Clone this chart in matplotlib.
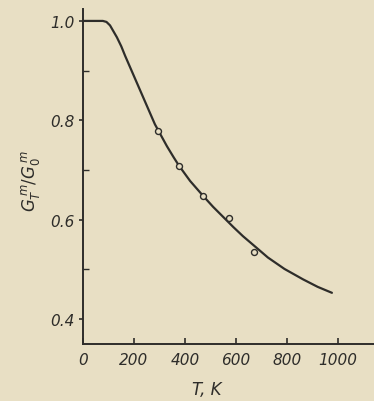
import matplotlib
matplotlib.use("Agg")
import matplotlib.pyplot as plt
from matplotlib.ticker import MultipleLocator

# Curve
curve_T = [0, 40, 78, 92, 106, 133, 150, 165, 204, 243, 282, 329, 355, 376,
           420, 471, 510, 549, 590, 627, 675, 725, 790, 863, 920, 976]
curve_G = [1.0, 1.0, 1.0, 0.998, 0.991, 0.967, 0.949, 0.930, 0.884, 0.838,
           0.792, 0.748, 0.726, 0.709, 0.678, 0.648, 0.626, 0.606, 0.585,
           0.567, 0.546, 0.524, 0.501, 0.480, 0.465, 0.453]

# Measured points (open circles)
pts_T = [294, 376, 472, 572, 671]
pts_G = [0.778, 0.708, 0.648, 0.603, 0.535]

x_ticks = [0, 200, 400, 600, 800, 1000]
x_ticklabels = ["0", "200", "400", "600", "800", "1000"]
y_ticks = [0.4, 0.6, 0.8, 1.0]
y_ticklabels = ["0.4", "0.6", "0.8", "1.0"]

bg = "#e8dfc4"
ink = "#2e2d2a"

fig = plt.figure(figsize=(3.74, 4.02), dpi=100, facecolor=bg)
ax = fig.add_axes([83/374, (402-345)/402, 1 - 83/374, (345-10)/402])
ax.set_facecolor(bg)

ax.plot(curve_T, curve_G, color=ink, lw=1.6, solid_capstyle="round",
        solid_joinstyle="round", zorder=2)
ax.plot(pts_T, pts_G, linestyle="none", marker="o", ms=4.3, mfc=bg,
        mec=ink, mew=1.0, zorder=3)

ax.set_xlim(0, 1141)
ax.set_ylim(0.35, 1.024)

for s in ["top", "right"]:
    ax.spines[s].set_visible(False)
for s in ["left", "bottom"]:
    ax.spines[s].set_color(ink)
    ax.spines[s].set_linewidth(1.4)

ax.set_xticks(x_ticks)
ax.set_xticklabels(x_ticklabels)
ax.set_yticks(y_ticks)
ax.set_yticklabels(y_ticklabels)
ax.yaxis.set_minor_locator(MultipleLocator(0.1))

ax.tick_params(axis="x", direction="in", length=4, width=1.2, color=ink,
               labelcolor=ink, labelsize=11, pad=6)
ax.tick_params(axis="y", which="major", direction="out", length=3, width=1.2,
               color=ink, labelcolor=ink, labelsize=11, pad=3)
ax.tick_params(axis="y", which="minor", direction="in", length=4, width=1.0,
               color=ink)
for lab in ax.get_xticklabels() + ax.get_yticklabels():
    lab.set_fontstyle("italic")

fig.text(207/374, 1 - 390/402, "T, K", ha="center", va="center",
         fontsize=12, style="italic", color=ink)
fig.text(30/374, 1 - 181/402, r"$G_T^{\,m}/G_0^{\,m}$", ha="center",
         va="center", rotation=90, fontsize=12, color=ink)

fig.savefig("out.png", dpi=100, facecolor=bg)
